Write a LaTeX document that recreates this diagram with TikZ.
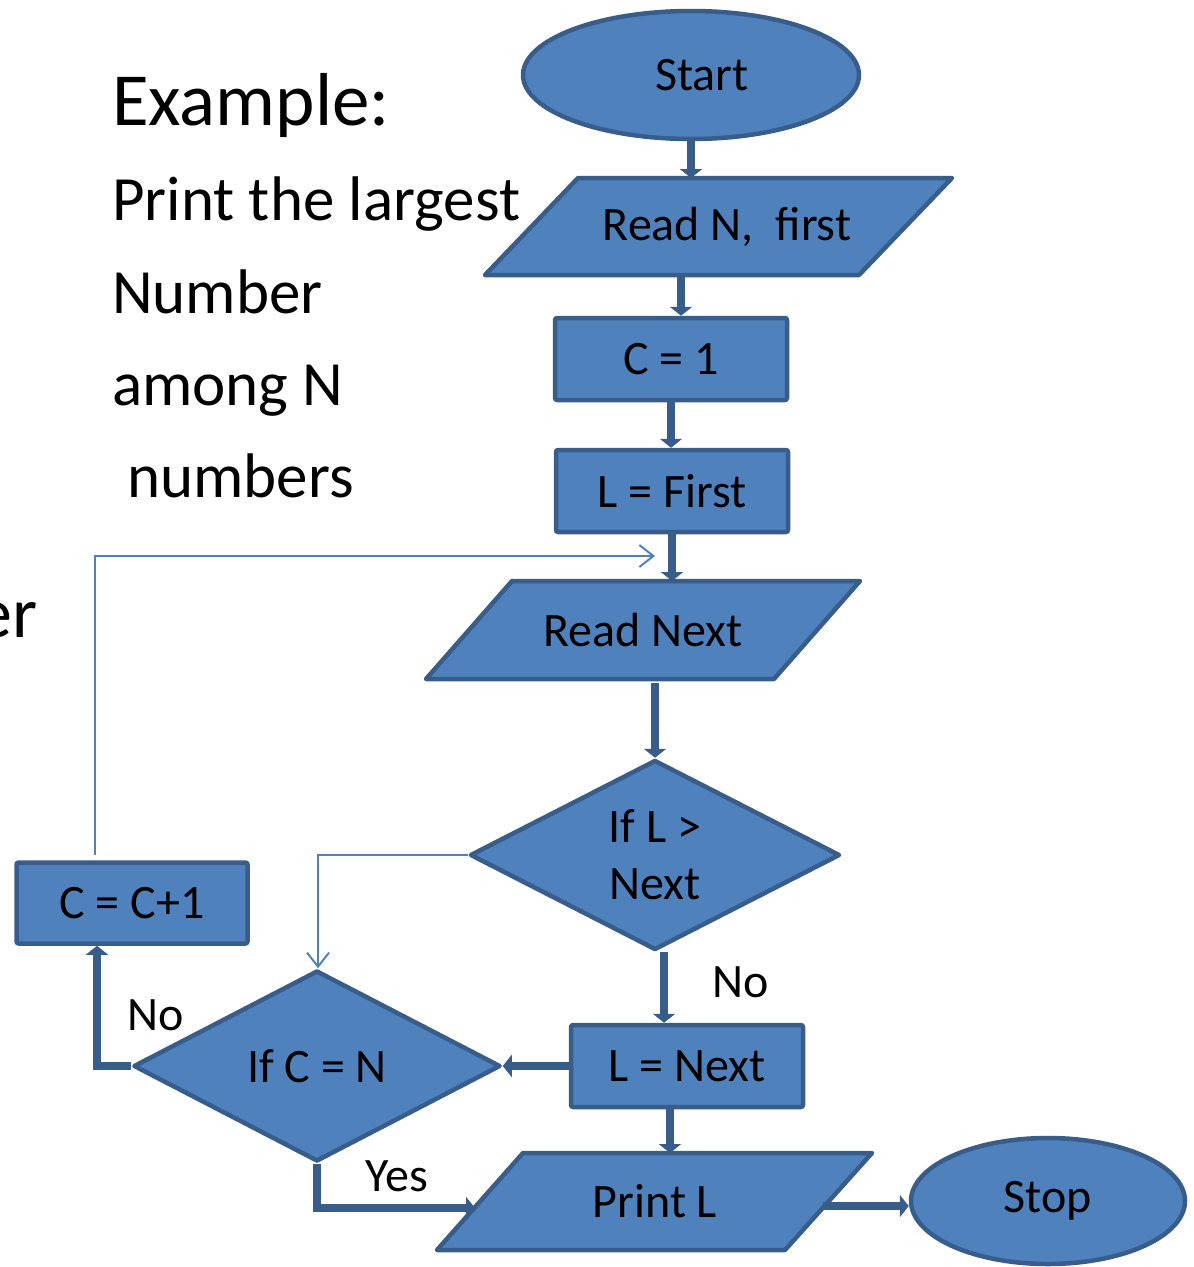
\documentclass[tikz,border=0pt]{standalone}
\usepackage{fontspec}
\setmainfont{Carlito}
\usetikzlibrary{shapes.geometric,arrows.meta}
\definecolor{boxfill}{HTML}{4F81BD}
\definecolor{boxline}{HTML}{385D8A}
\definecolor{thinline}{HTML}{4F81BD}

\begin{document}
\begin{tikzpicture}[x=1pt,y=-1pt,
  shapeline/.style={draw=boxline, fill=boxfill, line width=4.5pt, line join=round},
  nodetext/.style={font=\fontsize{48}{57}\selectfont, text=black},
  procbox/.style={shapeline, rectangle, rounded corners=2pt, minimum width=232pt,
    minimum height=82pt, inner sep=0pt, nodetext},
  term/.style={shapeline, ellipse, inner sep=0pt, nodetext},
  decision/.style={shapeline, diamond, aspect=2, inner sep=0pt, align=center,
    minimum width=370pt, minimum height=190pt, nodetext},
  flow/.style={draw=boxline, line width=7.5pt, -{Triangle[width=22pt,length=9pt]}},
  loopline/.style={draw=thinline, line width=2pt,
    -{Straight Barb[width=22pt,length=14pt,line width=2pt]}},
  lbl/.style={nodetext, inner sep=0pt, anchor=base west},
  side/.style={font=\fontsize{63}{76}\selectfont, inner sep=0pt, anchor=base west},
]
\useasboundingbox (0,0) rectangle (1194,1267);

% side text
\node[side, font=\fontsize{75}{90}\selectfont] (title) at (112,125) {Example:};
\node[side] (line1) at (112,220) {Print the largest};
\node[side] (line2) at (112,313) {Number};
\node[side] (line3) at (112,405) {among N};
\node[side] (line4) at (127,497) {numbers};
\node[side, anchor=base east, font=\fontsize{72}{90}\selectfont] (cut) at (38,637) {er};

% flowchart shapes
\node[term, minimum width=336pt, minimum height=128pt] (start) at (691,75) {\hspace*{22pt}Start};

\draw[shapeline] (578,178) -- (952,178) -- (859,275) -- (485,275) -- cycle;
\node[nodetext] (readn) at (727,227) {Read N,\ \ first};
\coordinate (readn-in) at (691,178);
\coordinate (readn-out) at (681,275);

\node[procbox] (c1) at (671,359) {C = 1};
\node[procbox] (lfirst) at (672,491) {L = First};

\draw[shapeline] (512,581) -- (860,581) -- (774,679) -- (426,679) -- cycle;
\node[nodetext] (readnext) at (643,630) {Read Next};
\coordinate (readnext-in) at (672,581);
\coordinate (readnext-out) at (655,683);

\node[decision] (ifl) at (655,855) {If L >\\Next};

\node[procbox] (lnext) at (687,1066) {L = Next};

\draw[shapeline] (523,1153) -- (872,1153) -- (785,1250) -- (437,1250) -- cycle;
\node[nodetext] (printl) at (655,1201) {Print L};
\coordinate (printl-in) at (670,1153);
\coordinate (printl-left) at (475,1208);
\coordinate (printl-right) at (823,1206);

\node[term, minimum width=274pt, minimum height=126pt] (stop) at (1048,1201) {Stop};

\node[decision, minimum width=367pt, minimum height=191pt] (ifc) at (317,1066) {If C = N};

\node[procbox, minimum width=231pt, minimum height=81pt] (cinc) at (132,903) {C = C+1};

% connectors
\draw[flow] (start.south) -- (readn-in);
\draw[flow] (readn-out) -- (readn-out |- c1.north);
\draw[flow] (c1.south) -- (c1.south |- lfirst.north);
\draw[flow] (lfirst.south) -- (readnext-in);
\draw[flow] (readnext-out) -- (ifl.north);
\draw[flow] ([xshift=9pt]ifl.south) -- ([xshift=9pt]ifl.south |- lnext.north);
\draw[flow] (printl-in |- lnext.south) -- (printl-in);
\draw[flow] (lnext.west) -- (ifc.east);
\coordinate (noturn) at (97,1066);
\draw[flow] (ifc.west) -- (noturn) -- (noturn |- cinc.south);
\coordinate (yesturn) at (317,1208);
\draw[flow] (ifc.south) -- (yesturn) -- (printl-left);
\draw[flow] (printl-right) -- (stop.west |- printl-right);

% loop-back lines
\coordinate (loopstart) at (95,855);
\coordinate (looptop) at (95,556);
\coordinate (loopend) at (655,556);
\draw[loopline] (loopstart) -- (looptop) -- (loopend);
\coordinate (branch) at (318,855);
\draw[loopline] (ifl.west) -- (branch) -- (branch |- ifc.north);

% branch labels
\node[lbl] (no1) at (712,997) {No};
\node[lbl] (no2) at (127,1030) {No};
\node[lbl] (yes) at (365,1191) {Yes};
\end{tikzpicture}
\end{document}
